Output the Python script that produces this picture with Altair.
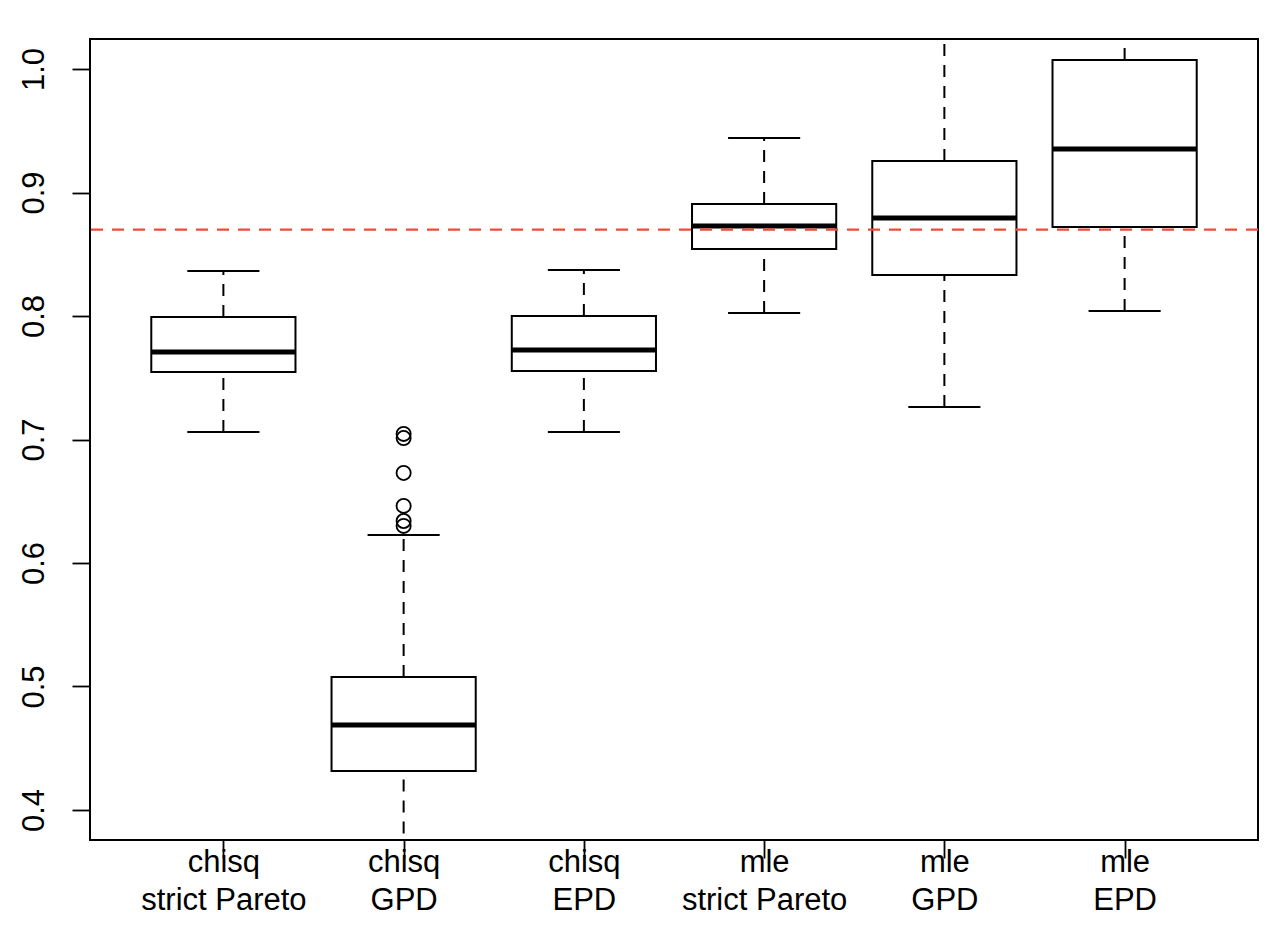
import altair as alt
import pandas as pd

methods = ["chisq", "chisq", "chisq", "mle", "mle", "mle"]
models = ["strict Pareto", "GPD", "EPD", "strict Pareto", "GPD", "EPD"]
positions = [1, 2, 3, 4, 5, 6]
whisker_low = [0.7061, 0.330, 0.7061, 0.8024, 0.7263, 0.8040]
q1 = [0.7547, 0.4316, 0.7555, 0.8543, 0.8332, 0.8721]
median = [0.7709, 0.4688, 0.7725, 0.8729, 0.8794, 0.9352]
q3 = [0.7992, 0.5077, 0.8000, 0.8907, 0.9255, 1.0073]
whisker_high = [0.8364, 0.6227, 0.8372, 0.9441, 1.060, 1.090]

outlier_pos = [2, 2, 2, 2, 2, 2]
outlier_val = [0.7045, 0.7012, 0.6729, 0.6462, 0.6340, 0.6300]

reference_value = 0.87

y_ticks = [0.4, 0.5, 0.6, 0.7, 0.8, 0.9, 1.0]

df = pd.DataFrame({
    "pos": positions,
    "lo": whisker_low,
    "q1": q1,
    "med": median,
    "q3": q3,
    "hi": whisker_high,
})
out_df = pd.DataFrame({"pos": outlier_pos, "val": outlier_val})

FONT = "Liberation Sans"
xscale = alt.Scale(domain=[0.26, 6.74], nice=False, zero=False)
yscale = alt.Scale(domain=[0.3757, 1.0243], nice=False, zero=False)

label_expr = " : ".join(
    "datum.value == %d ? ['%s','%s']" % (p, m, g) for p, m, g in zip(positions, methods, models)
) + " : ''"

base = alt.Chart(df).transform_calculate(
    left="datum.pos - 0.4",
    right="datum.pos + 0.4",
    sleft="datum.pos - 0.2",
    sright="datum.pos + 0.2",
)

x_axis = alt.Axis(
    values=positions, labelExpr=label_expr, title=None, grid=False, domain=False,
    tickSize=18, tickWidth=1.8, tickColor="black", labelFont=FONT, labelFontSize=31,
    labelColor="black", labelBaseline="alphabetic", labelPadding=13, labelLineHeight=38,
    labelAlign="center", labelFlush=False, labelOverlap=False,
)
y_axis = alt.Axis(
    values=y_ticks, format=".1f", title=None, grid=False, domain=False,
    tickSize=18, tickWidth=1.8, tickColor="black", labelFont=FONT, labelFontSize=31,
    labelColor="black", labelAngle=270, labelAlign="center", labelBaseline="alphabetic",
    labelPadding=29, labelFlush=False, labelOverlap=False,
)

dash = [12, 9]

whisk_low = base.mark_rule(color="black", strokeWidth=2, strokeDash=dash, clip=True).encode(
    x=alt.X("pos:Q", scale=xscale, axis=x_axis),
    y=alt.Y("lo:Q", scale=yscale, axis=y_axis),
    y2="q1:Q",
)
whisk_high = base.mark_rule(color="black", strokeWidth=2, strokeDash=dash, clip=True).encode(
    x=alt.X("pos:Q", scale=xscale),
    y=alt.Y("q3:Q", scale=yscale),
    y2="hi:Q",
)
staple_low = base.mark_rule(color="black", strokeWidth=2, clip=True).encode(
    x=alt.X("sleft:Q", scale=xscale), x2="sright:Q", y=alt.Y("lo:Q", scale=yscale)
)
staple_high = base.mark_rule(color="black", strokeWidth=2, clip=True).encode(
    x=alt.X("sleft:Q", scale=xscale), x2="sright:Q", y=alt.Y("hi:Q", scale=yscale)
)
boxes = base.mark_rect(fill="white", stroke="black", strokeWidth=2, clip=True).encode(
    x=alt.X("left:Q", scale=xscale), x2="right:Q",
    y=alt.Y("q1:Q", scale=yscale), y2="q3:Q",
)
medians = base.mark_rule(color="black", strokeWidth=5, clip=True).encode(
    x=alt.X("left:Q", scale=xscale), x2="right:Q", y=alt.Y("med:Q", scale=yscale)
)
outliers = alt.Chart(out_df).mark_point(
    shape="circle", filled=False, color="black", size=200, strokeWidth=1.8, opacity=1
).encode(x=alt.X("pos:Q", scale=xscale), y=alt.Y("val:Q", scale=yscale))

ref = alt.Chart(pd.DataFrame({"v": [reference_value]})).mark_rule(
    color="#EE4B3B", strokeWidth=2.2, strokeDash=dash
).encode(y=alt.Y("v:Q", scale=yscale))

chart = alt.layer(
    whisk_low, whisk_high, staple_low, staple_high, boxes, medians, outliers, ref
).properties(
    width=1168, height=801,
    padding={"left": 82, "top": 31, "right": 18, "bottom": 94},
    autosize=alt.AutoSizeParams(type="none"),
    background="white",
).configure_view(stroke="black", strokeWidth=2)

chart.save("out.html", embed_options={"renderer": "svg", "actions": False})
